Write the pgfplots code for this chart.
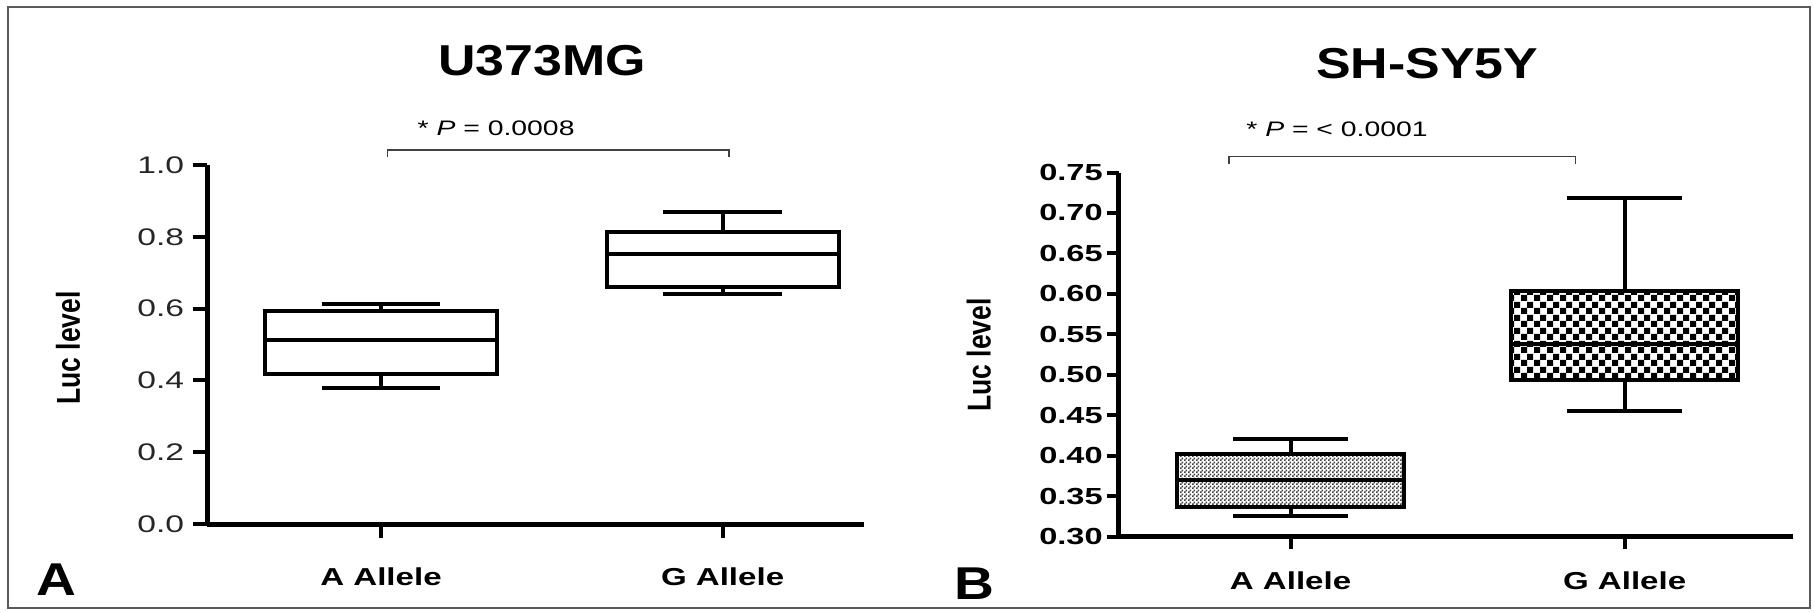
\documentclass[border=0pt]{standalone}
\usepackage{pgfplots}
\pgfplotsset{compat=1.18}
\usepgfplotslibrary{statistics}
\usetikzlibrary{patterns}
\usepackage{fontspec}
\setmainfont{Liberation Sans}
\newfontfamily\sA{Liberation Sans}[FakeStretch=1.35]
\newfontfamily\sT{Liberation Sans}[FakeStretch=1.4]
\newfontfamily\sH{Liberation Sans}[FakeStretch=1.2]

\pgfdeclarepatternformonly{finecheck}{\pgfpointorigin}{\pgfpoint{1.6pt}{1.6pt}}{\pgfpoint{1.6pt}{1.6pt}}{%
 \pgfpathrectangle{\pgfpointorigin}{\pgfpoint{0.8pt}{0.8pt}}%
 \pgfpathrectangle{\pgfpoint{0.8pt}{0.8pt}}{\pgfpoint{0.8pt}{0.8pt}}%
 \pgfusepath{fill}}
\pgfdeclarepatternformonly{coarsecheck}{\pgfpointorigin}{\pgfpoint{5.2pt}{5.2pt}}{\pgfpoint{5.2pt}{5.2pt}}{%
 \pgfpathrectangle{\pgfpointorigin}{\pgfpoint{2.6pt}{2.6pt}}%
 \pgfpathrectangle{\pgfpoint{2.6pt}{2.6pt}}{\pgfpoint{2.6pt}{2.6pt}}%
 \pgfusepath{fill}}

\pgfplotsset{
 myaxis/.style={
  scale only axis,
  axis x line*=bottom, axis y line*=left,
  axis line style={line width=2pt, black, -},
  tick align=outside,
  major tick length=5.6pt,
  tick style={line width=1.6pt, black},
  xtick={1,2}, xticklabels={A Allele, G Allele},
  xticklabel style={font=\sA\bfseries\fontsize{9.8}{11}\selectfont},
  clip=false,
  minor tick num=0,
  every axis title shift=0pt,
  boxplot/draw direction=y,
 },
}

\begin{document}
\begin{tikzpicture}
\path[use as bounding box, fill=white] (0,0) rectangle (725.6pt,244.8pt);
\draw[line width=0.8pt, black!65] (3.2pt,1.6pt) rectangle (724pt,242pt);

% Panel A
\begin{axis}[myaxis,
  at={(82.8pt,35.2pt)}, anchor=south west,
  width=262.8pt, height=143.6pt,
  xmin=0.4905, xmax=2.414, ymin=0, ymax=1,
  xticklabel style={yshift=-8.4pt},
  ytick={0,0.2,0.4,0.6,0.8,1.0},
  yticklabels={0.0,0.2,0.4,0.6,0.8,1.0},
  yticklabel style={font=\sT\fontsize{9.6}{11}\selectfont, text=black!85},
  title={U373MG},
  title style={at={(axis description cs:0.51,1.29)}, anchor=center, font=\sH\bfseries\fontsize{17.3}{20}\selectfont},
  ylabel={\scalebox{1}[1.25]{Luc level}},
  ylabel style={at={(axis description cs:-0.2116,0.49)}, anchor=center, font=\bfseries\fontsize{10.6}{13}\selectfont},
]
\addplot[black, line width=1.6pt, boxplot prepared={lower whisker=0.378, lower quartile=0.417, median=0.5125, upper quartile=0.594, upper whisker=0.613, draw position=1, box extend=0.679, whisker extend=0.348, every box/.style={draw=black, fill=white}}] coordinates {};
\addplot[black, line width=1.6pt, boxplot prepared={lower whisker=0.641, lower quartile=0.661, median=0.752, upper quartile=0.814, upper whisker=0.870, draw position=2, box extend=0.679, whisker extend=0.348, every box/.style={draw=black, fill=white}}] coordinates {};
\draw[line width=0.5pt, black!75] (axis cs:1.02,1.022) -- (axis cs:1.02,1.042) -- (axis cs:2.019,1.042) -- (axis cs:2.019,1.022);
\node[font=\sA\fontsize{8.4}{10}\selectfont] at (axis cs:1.337,1.103) {* \textit{P} = 0.0008};
\end{axis}

% Panel B
\begin{axis}[myaxis,
  at={(447.4pt,30.2pt)}, anchor=south west,
  width=269.8pt, height=145.6pt,
  xmin=0.485, xmax=2.504, ymin=0.30, ymax=0.75,
  major tick length=4.8pt,
  xticklabel style={yshift=-5.6pt},
  ytick={0.30,0.35,0.40,0.45,0.50,0.55,0.60,0.65,0.70,0.75},
  yticklabels={0.30,0.35,0.40,0.45,0.50,0.55,0.60,0.65,0.70,0.75},
  yticklabel style={font=\sT\bfseries\fontsize{9.3}{11}\selectfont, xshift=2pt},
  title={SH-SY5Y},
  title style={at={(axis description cs:0.458,1.299)}, anchor=center, font=\sH\bfseries\fontsize{17.3}{20}\selectfont},
  ylabel={\scalebox{1}[1.25]{Luc level}},
  ylabel style={at={(axis description cs:-0.207,0.4986)}, anchor=center, font=\bfseries\fontsize{10.6}{13}\selectfont},
]
\addplot[black, line width=1.6pt, boxplot prepared={lower whisker=0.3257, lower quartile=0.3368, median=0.3698, upper quartile=0.402, upper whisker=0.420, draw position=1, box extend=0.677, whisker extend=0.344, every box/.style={draw=black, pattern=finecheck, pattern color=black!75}}] coordinates {};
\addplot[black, line width=1.6pt, boxplot prepared={lower whisker=0.455, lower quartile=0.4934, median=0.538, upper quartile=0.604, upper whisker=0.719, draw position=2, box extend=0.68, whisker extend=0.344, every box/.style={draw=black, pattern=coarsecheck, pattern color=black}}] coordinates {};
\draw[line width=0.5pt, black!75] (axis cs:0.816,0.760) -- (axis cs:0.816,0.770) -- (axis cs:1.852,0.770) -- (axis cs:1.852,0.760);
\node[font=\sA\fontsize{8.4}{10}\selectfont] at (axis cs:1.139,0.804) {* \textit{P} = < 0.0001};
\end{axis}

\node[font=\sH\bfseries\fontsize{18.4}{20}\selectfont] at (22.7pt,12.8pt) {A};
\node[font=\sH\bfseries\fontsize{18.4}{20}\selectfont] at (389.6pt,11.2pt) {B};
\end{tikzpicture}
\end{document}
